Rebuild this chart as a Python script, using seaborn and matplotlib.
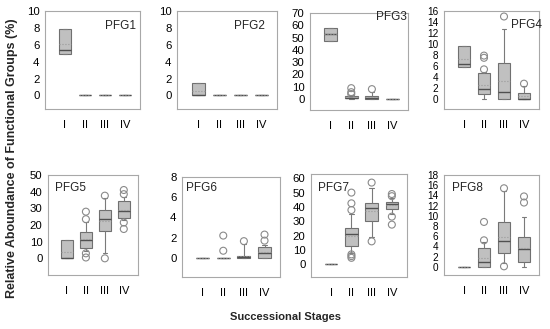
import pandas as pd
import seaborn as sns
import matplotlib.pyplot as plt

stages = ["I", "II", "III", "IV"]

# box summaries, one tuple per stage:
# (whisker low, Q1, median, Q3, whisker high)
pfg1_box = [(4.96, 4.96, 5.44, 7.86, 7.86), (0, 0, 0, 0, 0), (0, 0, 0, 0, 0), (0, 0, 0, 0, 0)]
pfg2_box = [(0, 0, 0, 1.5, 1.5), (0, 0, 0, 0, 0), (0, 0, 0, 0, 0), (0, 0, 0, 0, 0)]
pfg3_box = [(47.4, 47.4, 52.5, 58, 58), (0, 0.5, 1, 2.5, 3), (0, 0, 0.8, 2, 5.5), (0, 0, 0, 0, 0)]
pfg4_box = [(5.9, 5.9, 6.3, 9.6, 9.6), (0, 0.9, 1.8, 4.8, 5.0), (0, 0, 1.3, 6.5, 12.7), (0, 0, 0, 1.1, 2.3)]
pfg5_box = [(0, 0, 0, 11.2, 11.2), (4.5, 6.4, 11, 15.6, 22), (3.5, 16.6, 23.5, 29.2, 36.5), (23, 24.2, 28.4, 34.2, 37)]
pfg6_box = [(0, 0, 0, 0, 0), (0, 0, 0, 0, 0), (0, 0, 0.05, 0.2, 1.4), (0, 0, 0.5, 1.1, 1.3)]
pfg7_box = [(0, 0, 0, 0, 0), (8, 12.8, 21, 25, 35), (19, 30, 39, 43, 53), (35, 38.3, 42, 43.7, 46)]
pfg8_box = [(0, 0, 0, 0, 0), (0, 0, 0.9, 3.7, 4.8), (0.8, 2.7, 5.1, 8.7, 14.8), (0, 1.0, 3.4, 5.8, 9.8)]

# outliers per stage
pfg1_out = [[], [], [], []]
pfg2_out = [[], [], [], []]
pfg3_out = [[], [4, 5.5, 8.8], [8], []]
pfg4_out = [[], [5.4, 7.5, 7.9], [15], [2.8]]
pfg5_out = [[], [0.5, 3, 23.5, 28], [0, 37.6], [17.6, 21.5, 38.5, 41]]
pfg6_out = [[], [0.7, 2.2], [1.65], [1.7, 2.3]]
pfg7_out = [[], [4.4, 5.6, 6.8, 37.8, 42.5, 50], [15.9, 57], [27.6, 33.2, 47.5, 49]]
pfg8_out = [[], [5.2, 8.8], [0.1, 15.4], [12.6, 13.8]]

# y axis limits and tick steps
pfg_ylim = [(-1.6, 10), (-1.6, 10), (-9, 70), (-1.8, 16), (-10, 50), (-1.9, 8), (-9, 63), (-1.6, 18)]
pfg_ystep = [2, 2, 10, 2, 10, 2, 10, 2]

panels = [
    ("PFG1", pfg1_box, pfg1_out), ("PFG2", pfg2_box, pfg2_out),
    ("PFG3", pfg3_box, pfg3_out), ("PFG4", pfg4_box, pfg4_out),
    ("PFG5", pfg5_box, pfg5_out), ("PFG6", pfg6_box, pfg6_out),
    ("PFG7", pfg7_box, pfg7_out), ("PFG8", pfg8_box, pfg8_out),
]

# axes rectangles in pixels: left, top, right, bottom
rects = [(45, 11, 140, 109), (177, 11, 277, 109), (310, 13, 408, 110), (444, 11, 539, 109),
         (48, 175, 138, 275), (182, 177, 280, 277), (311, 174, 407, 277), (444, 175, 539, 275)]
# label positions (axes fraction) and alignment
label_pos = [(0.96, 0.85, "right"), (0.88, 0.85, "right"), (0.99, 0.955, "right"), (1.03, 0.86, "right"),
             (0.08, 0.87, "left"), (0.04, 0.89, "left"), (0.07, 0.86, "left"), (0.08, 0.87, "left")]

sns.set_style("white")
plt.rcParams["font.family"] = ["Liberation Sans", "DejaVu Sans"]

W, H = 550, 329
fig = plt.figure(figsize=(5.5, 3.29), dpi=100)

frame = "#a8a8a8"
for i, (name, box, out) in enumerate(panels):
    l, t, r, b = rects[i]
    ax = fig.add_axes([l / W, 1 - b / H, (r - l) / W, (b - t) / H])

    # long-form table for seaborn, weighted so the quartiles land on the read values
    rows = []
    for st, (lo, q1, med, q3, hi) in zip(stages, box):
        for v in [lo, q1, q1, q1, med, med, med, q3, q3, q3, hi]:
            rows.append((st, v))
    df = pd.DataFrame(rows, columns=["stage", "value"])

    sns.boxplot(data=df, x="stage", y="value", order=stages, whis=(0, 100),
                width=0.62, color="#c0c0c0", linecolor="#707070", linewidth=0.8,
                fliersize=0, showmeans=True, meanline=True, capwidths=0.22,
                meanprops=dict(color="#9a9a9a", linestyle=":", linewidth=0.8),
                medianprops=dict(color="#505050", linewidth=1.0),
                whiskerprops=dict(color="#7a7a7a", linewidth=0.8),
                capprops=dict(color="#7a7a7a", linewidth=0.8),
                ax=ax)

    orows = [(st, v) for st, vals in zip(stages, out) for v in vals]
    if orows:
        odf = pd.DataFrame(orows, columns=["stage", "value"])
        sns.stripplot(data=odf, x="stage", y="value", order=stages, jitter=False,
                      size=5, facecolor="none", edgecolor="#8a8a8a", linewidth=0.8,
                      ax=ax, zorder=4)

    lo_y, hi_y = pfg_ylim[i]
    step = pfg_ystep[i]
    nticks = len(range(0, int(hi_y) + 1, step))
    ax.set_ylim(lo_y, hi_y)
    ax.set_yticks(range(0, int(hi_y) + 1, step))
    ax.set_xlim(-1.0, 3.75)
    ax.set_xlabel("")
    ax.set_ylabel("")
    ysize = 7.2 if nticks > 8 else 8.2
    ax.tick_params(axis="y", length=2, pad=2, labelsize=ysize, color=frame, labelcolor="black")
    ax.tick_params(axis="x", length=2, pad=6, labelsize=8, color=frame, labelcolor="black")
    for sp in ax.spines.values():
        sp.set_visible(True)
        sp.set_color(frame)
        sp.set_linewidth(0.8)

    x, y, ha = label_pos[i]
    ax.text(x, y, name, transform=ax.transAxes, ha=ha, va="center", fontsize=8.5, clip_on=False)

fig.text(12 / W, 0.52, "Relative Aboundance of Functional Groups (%)", rotation=90,
         ha="center", va="center", fontsize=9, fontweight="bold")
fig.text(0.52, 1 - 317 / H, "Successional Stages", ha="center", va="center",
         fontsize=8, fontweight="bold")

fig.savefig("out.png", dpi=100)
